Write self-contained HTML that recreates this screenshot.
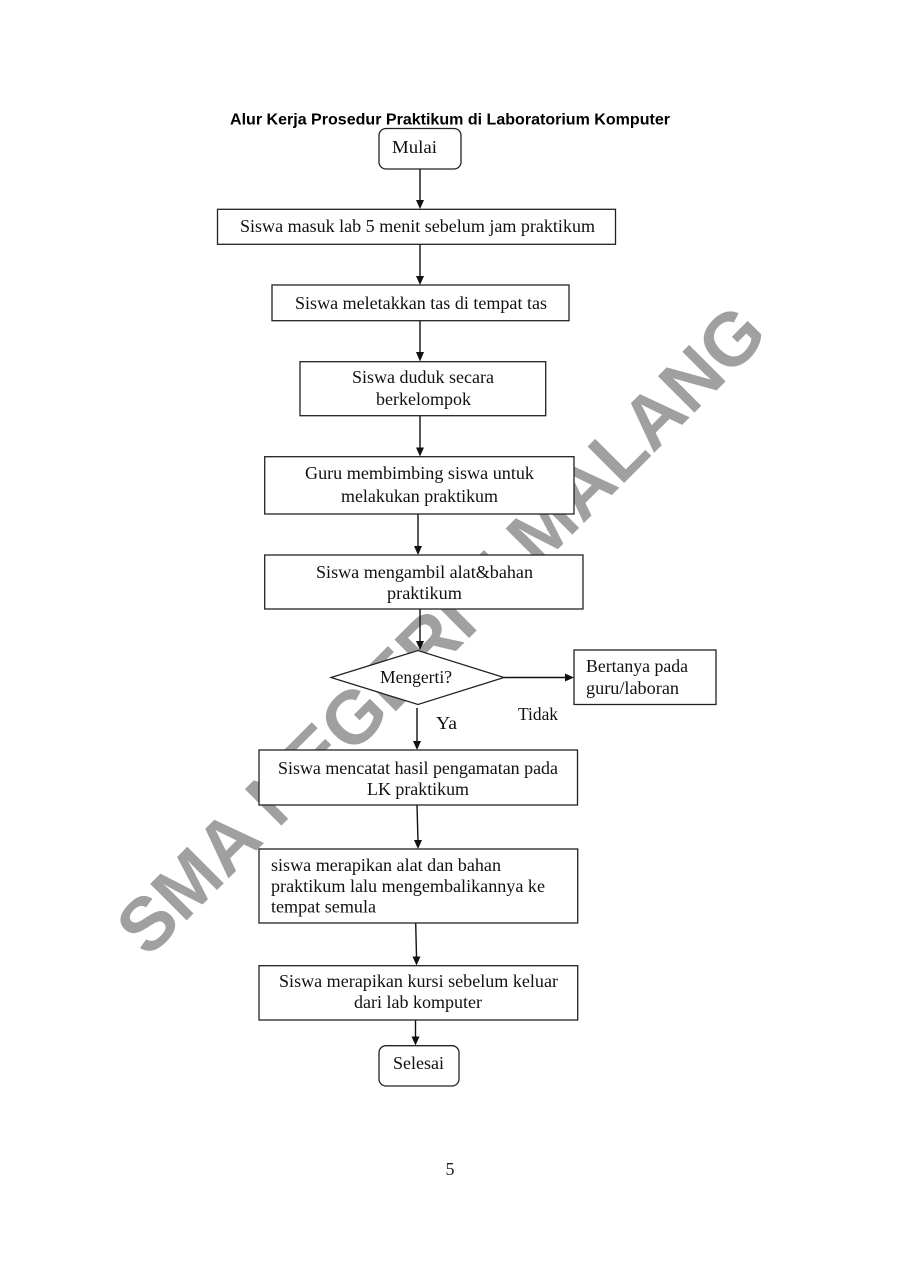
<!DOCTYPE html>
<html>
<head>
<meta charset="utf-8">
<style>
  html, body { margin: 0; padding: 0; background: #ffffff; }
  body { width: 900px; height: 1274px; overflow: hidden; }
  svg { display: block; }
  .t { font-family: "Liberation Serif", "Times New Roman", serif; font-size: 18px; fill: #111; }
  .box { fill: #ffffff; stroke: #222; stroke-width: 1.3; }
  .ln { stroke: #111; stroke-width: 1.4; fill: none; }
  .ah { fill: #111; }
</style>
</head>
<body>
<svg width="900" height="1274" viewBox="0 0 900 1274" xmlns="http://www.w3.org/2000/svg">
  <rect x="0" y="0" width="900" height="1274" fill="#ffffff"/>

  <!-- Watermark -->
  <text x="0" y="0" transform="translate(148,959) rotate(-45)" font-family="Liberation Sans, Arial, sans-serif" font-weight="bold" font-size="75" fill="#a0a0a0" textLength="880" lengthAdjust="spacing">SMA NEGERI 5 MALANG</text>

  <!-- Title -->
  <text x="230" y="124.5" font-family="Liberation Sans, Arial, sans-serif" font-weight="bold" font-size="16" fill="#000" textLength="440" lengthAdjust="spacingAndGlyphs">Alur Kerja Prosedur Praktikum di Laboratorium Komputer</text>

  <!-- Connectors -->
  <line class="ln" x1="420" y1="169" x2="420" y2="201"/>
  <polygon class="ah" points="416,200 424,200 420,209"/>

  <line class="ln" x1="420" y1="244.5" x2="420" y2="277"/>
  <polygon class="ah" points="416,276 424,276 420,285"/>

  <line class="ln" x1="420" y1="321" x2="420" y2="353"/>
  <polygon class="ah" points="416,352 424,352 420,361.5"/>

  <line class="ln" x1="420" y1="416" x2="420" y2="448"/>
  <polygon class="ah" points="416,447.5 424,447.5 420,456.5"/>

  <line class="ln" x1="418" y1="514" x2="418" y2="547"/>
  <polygon class="ah" points="414,546 422,546 418,555"/>

  <line class="ln" x1="420" y1="609" x2="420" y2="642"/>
  <polygon class="ah" points="416,641 424,641 420,650"/>

  <line class="ln" x1="504" y1="677.5" x2="566" y2="677.5"/>
  <polygon class="ah" points="565,673.5 565,681.5 574,677.5"/>

  <line class="ln" x1="417" y1="708" x2="417" y2="742"/>
  <polygon class="ah" points="413,741 421,741 417,750"/>

  <line class="ln" x1="417" y1="805" x2="418" y2="841"/>
  <polygon class="ah" points="414,840 422,840 418,849"/>

  <line class="ln" x1="415.7" y1="923" x2="416.5" y2="957"/>
  <polygon class="ah" points="412.5,956.5 420.5,956.5 416.5,965.5"/>

  <line class="ln" x1="415.5" y1="1020" x2="415.5" y2="1037"/>
  <polygon class="ah" points="411.5,1036.5 419.5,1036.5 415.5,1045.5"/>

  <!-- Shapes -->
  <rect class="box" x="379" y="128.5" width="82" height="40.5" rx="7" ry="7"/>
  <rect class="box" x="217.5" y="209.3" width="398" height="35"/>
  <rect class="box" x="272" y="285" width="297" height="35.7"/>
  <rect class="box" x="300" y="361.7" width="245.7" height="54"/>
  <rect class="box" x="264.7" y="456.7" width="309.3" height="57.3"/>
  <rect class="box" x="264.7" y="555" width="318.3" height="54"/>
  <polygon class="box" points="331,677.5 418,650.5 504,677.5 418,704.5"/>
  <rect class="box" x="574" y="650" width="142" height="54.5"/>
  <rect class="box" x="259" y="750" width="318.5" height="55"/>
  <rect class="box" x="259" y="849" width="318.7" height="74"/>
  <rect class="box" x="259" y="965.7" width="318.7" height="54.3"/>
  <rect class="box" x="379" y="1045.7" width="80" height="40.3" rx="7" ry="7"/>

  <!-- Labels -->
  <text class="t" x="392" y="153" textLength="45" lengthAdjust="spacingAndGlyphs">Mulai</text>
  <text class="t" x="240" y="232" textLength="355" lengthAdjust="spacingAndGlyphs">Siswa masuk lab 5 menit sebelum jam praktikum</text>
  <text class="t" x="295" y="309" textLength="252" lengthAdjust="spacingAndGlyphs">Siswa meletakkan tas di tempat tas</text>
  <text class="t" x="352" y="383" textLength="142" lengthAdjust="spacingAndGlyphs">Siswa duduk secara</text>
  <text class="t" x="376" y="405" textLength="95" lengthAdjust="spacingAndGlyphs">berkelompok</text>
  <text class="t" x="305" y="479" textLength="229" lengthAdjust="spacingAndGlyphs">Guru membimbing siswa untuk</text>
  <text class="t" x="341" y="502" textLength="157" lengthAdjust="spacingAndGlyphs">melakukan praktikum</text>
  <text class="t" x="316" y="578" textLength="217" lengthAdjust="spacingAndGlyphs">Siswa mengambil alat&amp;bahan</text>
  <text class="t" x="387" y="599" textLength="75" lengthAdjust="spacingAndGlyphs">praktikum</text>
  <text class="t" x="380" y="683" textLength="72" lengthAdjust="spacingAndGlyphs">Mengerti?</text>
  <text class="t" x="586" y="672" textLength="102" lengthAdjust="spacingAndGlyphs">Bertanya pada</text>
  <text class="t" x="586" y="694" textLength="93" lengthAdjust="spacingAndGlyphs">guru/laboran</text>
  <text class="t" x="518" y="720" textLength="40" lengthAdjust="spacingAndGlyphs">Tidak</text>
  <text class="t" x="436" y="729" textLength="21" lengthAdjust="spacingAndGlyphs">Ya</text>
  <text class="t" x="278" y="774" textLength="280" lengthAdjust="spacingAndGlyphs">Siswa mencatat hasil pengamatan pada</text>
  <text class="t" x="367" y="795" textLength="102" lengthAdjust="spacingAndGlyphs">LK praktikum</text>
  <text class="t" x="271" y="871" textLength="230" lengthAdjust="spacingAndGlyphs">siswa merapikan alat dan bahan</text>
  <text class="t" x="271" y="892" textLength="274" lengthAdjust="spacingAndGlyphs">praktikum lalu mengembalikannya ke</text>
  <text class="t" x="271" y="912.5" textLength="105" lengthAdjust="spacingAndGlyphs">tempat semula</text>
  <text class="t" x="279" y="987" textLength="279" lengthAdjust="spacingAndGlyphs">Siswa merapikan kursi sebelum keluar</text>
  <text class="t" x="354" y="1008" textLength="128" lengthAdjust="spacingAndGlyphs">dari lab komputer</text>
  <text class="t" x="393" y="1069" textLength="51" lengthAdjust="spacingAndGlyphs">Selesai</text>

  <!-- Page number -->
  <text x="445.5" y="1175" font-family="Liberation Serif, serif" font-size="18" fill="#222">5</text>
</svg>
</body>
</html>
